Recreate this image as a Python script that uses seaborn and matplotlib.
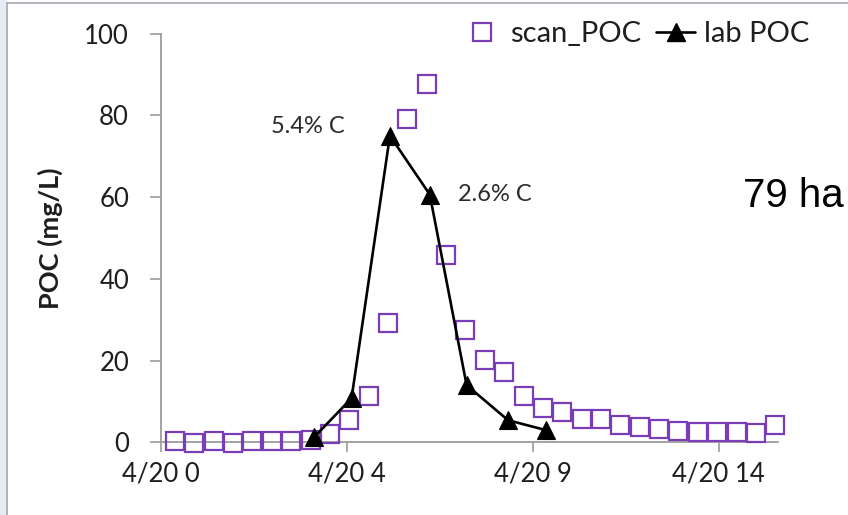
import matplotlib
matplotlib.use("Agg")
import matplotlib.pyplot as plt
from matplotlib.lines import Line2D
from matplotlib.patches import Rectangle
import seaborn as sns

# Hours after 4/20 00:00 for the scanned (in-situ) POC record
scan_hours = [0.36, 0.86, 1.36, 1.86, 2.36, 2.86, 3.36, 3.86, 4.36, 4.86,
              5.36, 5.86, 6.36, 6.86, 7.36, 7.86, 8.36, 8.86, 9.36, 9.86,
              10.36, 10.86, 11.36, 11.86, 12.36, 12.86, 13.36, 13.86, 14.36,
              14.86, 15.36, 15.86]
scan_poc = [0.2, -0.2, 0.3, -0.2, 0.2, 0.3, 0.3, 0.6, 2.0, 5.5,
            11.3, 29.2, 79.2, 87.6, 45.7, 27.4, 20.2, 17.3, 11.3, 8.3,
            7.5, 5.7, 5.7, 4.2, 3.8, 3.3, 2.8, 2.4, 2.4,
            2.4, 2.2, 4.2]

# Laboratory POC samples
lab_hours = [3.95, 4.92, 5.91, 6.94, 7.89, 8.96, 9.93]
lab_poc = [1.2, 10.8, 75.0, 60.6, 14.0, 5.4, 3.0]

x_ticks = [0, 4.8, 9.6, 14.4]
x_tick_labels = ["4/20 0", "4/20 4", "4/20 9", "4/20 14"]
y_ticks = [0, 20, 40, 60, 80, 100]

carbon_notes = [("5.4% C", 2), ("2.6% C", 3)]

PURPLE = "#7A3DB8"
AXIS_GREY = "#9C9C9C"
TEXT = "#1E1E1E"

sns.set_theme(style="white")
plt.rcParams["font.family"] = ["Lato", "DejaVu Sans"]

W, H = 848, 515
fig = plt.figure(figsize=(W / 100, H / 100), dpi=100)
fig.patch.set_facecolor("white")

x0, x1 = 161, 778
y0, y1 = 442.3, 33.5
ax = fig.add_axes([x0 / W, 1 - y0 / H, (x1 - x0) / W, (y0 - y1) / H])

sns.lineplot(x=scan_hours, y=scan_poc, ax=ax, color=PURPLE, linestyle="",
             marker="s", markersize=12.8, markerfacecolor="none",
             markeredgecolor=PURPLE, markeredgewidth=1.6,
             estimator=None, sort=False, clip_on=False, zorder=3)
sns.lineplot(x=lab_hours, y=lab_poc, ax=ax, color="black", linewidth=1.9,
             marker="^", markersize=13.5, markerfacecolor="black",
             markeredgecolor="black", markeredgewidth=0.8,
             estimator=None, sort=False, clip_on=False, zorder=4)

ax.set_xlim(0, 15.93)
ax.set_ylim(0, 100)
ax.set_xticks(x_ticks)
ax.set_xticklabels(x_tick_labels)
ax.set_yticks(y_ticks)

sns.despine(ax=ax)
for side in ("left", "bottom"):
    ax.spines[side].set_color(AXIS_GREY)
    ax.spines[side].set_linewidth(1.3)

ax.tick_params(axis="y", direction="out", length=8, width=1.2,
               color=AXIS_GREY, pad=15, labelsize=18.5, labelcolor=TEXT,
               left=True)
ax.tick_params(axis="x", direction="out", length=7, width=1.2,
               color=AXIS_GREY, pad=7, labelsize=18.5, labelcolor=TEXT,
               bottom=True)

ax.set_xlabel("")
ax.set_ylabel("POC (mg/L)", fontsize=19.5, fontweight="bold", color=TEXT)
ax.yaxis.set_label_coords(-0.159, 0.5)

# Carbon content of the two peak lab samples
ax.annotate(carbon_notes[0][0],
            xy=(lab_hours[carbon_notes[0][1]], lab_poc[carbon_notes[0][1]]),
            xytext=(-45, 9), textcoords="offset pixels", ha="right",
            va="center", fontsize=17, color="#2A2A2A")
ax.annotate(carbon_notes[1][0],
            xy=(lab_hours[carbon_notes[1][1]], lab_poc[carbon_notes[1][1]]),
            xytext=(28, 0), textcoords="offset pixels", ha="left",
            va="center", fontsize=17, color="#2A2A2A")

handles = [
    Line2D([], [], linestyle="", marker="s", markersize=12.8,
           markerfacecolor="none", markeredgecolor=PURPLE,
           markeredgewidth=1.6),
    Line2D([], [], color="black", linewidth=1.9, marker="^",
           markersize=13.5, markerfacecolor="black"),
]
fig.legend(handles, ["scan_POC", "lab POC"], ncol=2, frameon=False,
           loc="center left", bbox_to_anchor=(462 / W, 1 - 34 / H),
           bbox_transform=fig.transFigure, fontsize=21,
           handlelength=1.35, handletextpad=0.3, columnspacing=0.5,
           borderpad=0, borderaxespad=0, labelcolor=TEXT)

fig.text(743 / W, 1 - 196 / H, "79 ha", fontsize=29,
         family=["Liberation Sans", "DejaVu Sans"], color="black",
         ha="left", va="center")

# Slide frame: pale strip and thin grey border along the left and top
fig.patches.append(Rectangle((0, 0), 6.5 / W, 1, transform=fig.transFigure,
                             facecolor="#E6EBF4", edgecolor="none"))
fig.lines.append(Line2D([7 / W, 7 / W], [0, 1 - 2.5 / H],
                        transform=fig.transFigure, color="#A3A7AE",
                        linewidth=1.2))
fig.lines.append(Line2D([7 / W, 1], [1 - 2.5 / H, 1 - 2.5 / H],
                        transform=fig.transFigure, color="#A3A7AE",
                        linewidth=1.2))

fig.savefig("out.png", dpi=100, facecolor="white")
